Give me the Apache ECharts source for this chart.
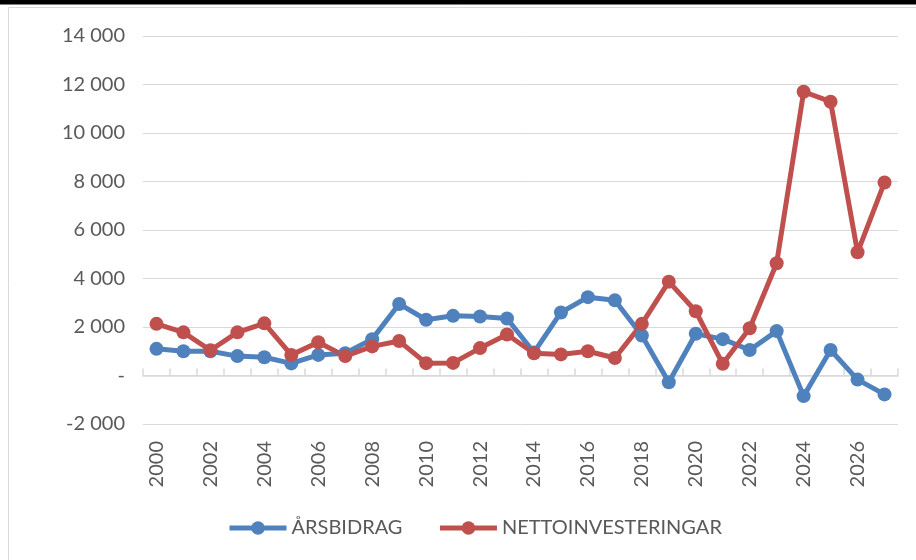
<!DOCTYPE html>
<html>
<head>
    <meta charset="utf-8">
    <title>Årsbidrag och nettoinvesteringar</title>
    <script src="https://cdn.jsdelivr.net/npm/echarts@6/dist/echarts.min.js"></script>
    <style>
        html, body { margin: 0; padding: 0; background: #fff; }
        #chart { width: 916px; height: 560px; }
    </style>
</head>
<body>
    <div id="chart"></div>
    <script type="text/javascript">
        // år 2000-2027
        var years = ['2000','2001','2002','2003','2004','2005','2006','2007','2008','2009',
                     '2010','2011','2012','2013','2014','2015','2016','2017','2018','2019',
                     '2020','2021','2022','2023','2024','2025','2026','2027'];
        var arsbidrag = [1100, 1000, 1000, 800, 750, 500, 850, 920, 1500, 2950,
                         2300, 2460, 2430, 2350, 950, 2600, 3230, 3100, 1650, -280,
                         1720, 1500, 1050, 1830, -850, 1050, -170, -780];
        var nettoinv = [2130, 1780, 1040, 1780, 2150, 850, 1370, 800, 1200, 1420,
                        510, 520, 1130, 1690, 920, 870, 1000, 720, 2130, 3870,
                        2650, 480, 1950, 4630, 11700, 11290, 5080, 7960];
        var yTicks = { min: -2000, max: 14000, step: 2000 };

        var font = 'Lato, "Open Sans", sans-serif';
        var grey = '#595959';

        function fmt(v) {
            if (v === 0) return '-';
            var s = String(Math.abs(v)).replace(/\B(?=(\d{3})+(?!\d))/g, ' ');
            return (v < 0 ? '-' : '') + s;
        }

        var myChart = echarts.init(document.getElementById('chart'));
        var option = {
            backgroundColor: '#fff',
            animation: false,
            graphic: [
                { type: 'rect', shape: { x: 8.5, y: 7.5, width: 940, height: 600 },
                  style: { fill: 'none', stroke: '#d9d9d9', lineWidth: 1 }, silent: true },
                { type: 'rect', shape: { x: 0, y: 0, width: 916, height: 4.5 },
                  style: { fill: '#000' }, silent: true }
            ],
            grid: { left: 143, right: 18, top: 36, height: 388 },
            legend: {
                left: 222,
                top: 513,
                itemWidth: 57,
                itemHeight: 17,
                itemGap: 35,
                lineStyle: { width: 5 },
                textStyle: { fontFamily: font, fontSize: 20, color: grey },
                data: ['ÅRSBIDRAG', 'NETTOINVESTERINGAR']
            },
            xAxis: [
                {
                    type: 'category',
                    data: years,
                    position: 'bottom',
                    boundaryGap: true,
                    axisLine: { show: false, onZero: false },
                    axisTick: { show: false },
                    axisLabel: {
                        interval: 1, rotate: 90, margin: 17,
                        fontFamily: font, fontSize: 20, color: grey
                    }
                },
                {
                    // linjen vid noll med uppåtriktade streck
                    type: 'category',
                    data: years,
                    position: 'top',
                    boundaryGap: true,
                    axisLine: { show: true, onZero: true, lineStyle: { color: '#d9d9d9', width: 1.5 } },
                    axisTick: { show: true, length: 7, interval: 0, lineStyle: { color: '#d9d9d9', width: 1.5 } },
                    axisLabel: { show: false }
                }
            ],
            yAxis: {
                type: 'value',
                min: yTicks.min,
                max: yTicks.max,
                interval: yTicks.step,
                axisLine: { show: false },
                axisTick: { show: false },
                splitLine: { lineStyle: { color: '#d9d9d9', width: 1 } },
                axisLabel: {
                    margin: 18, fontFamily: font, fontSize: 20, color: grey,
                    formatter: fmt
                }
            },
            series: [
                {
                    name: 'ÅRSBIDRAG',
                    type: 'line',
                    data: arsbidrag,
                    color: '#4f81bd',
                    symbol: 'circle',
                    symbolSize: 14,
                    lineStyle: { width: 5, color: '#4f81bd' },
                    itemStyle: { color: '#4f81bd' }
                },
                {
                    name: 'NETTOINVESTERINGAR',
                    type: 'line',
                    data: nettoinv,
                    color: '#c0504d',
                    symbol: 'circle',
                    symbolSize: 14,
                    lineStyle: { width: 5, color: '#c0504d' },
                    itemStyle: { color: '#c0504d' }
                }
            ]
        };
        myChart.setOption(option);
    </script>
</body>
</html>
